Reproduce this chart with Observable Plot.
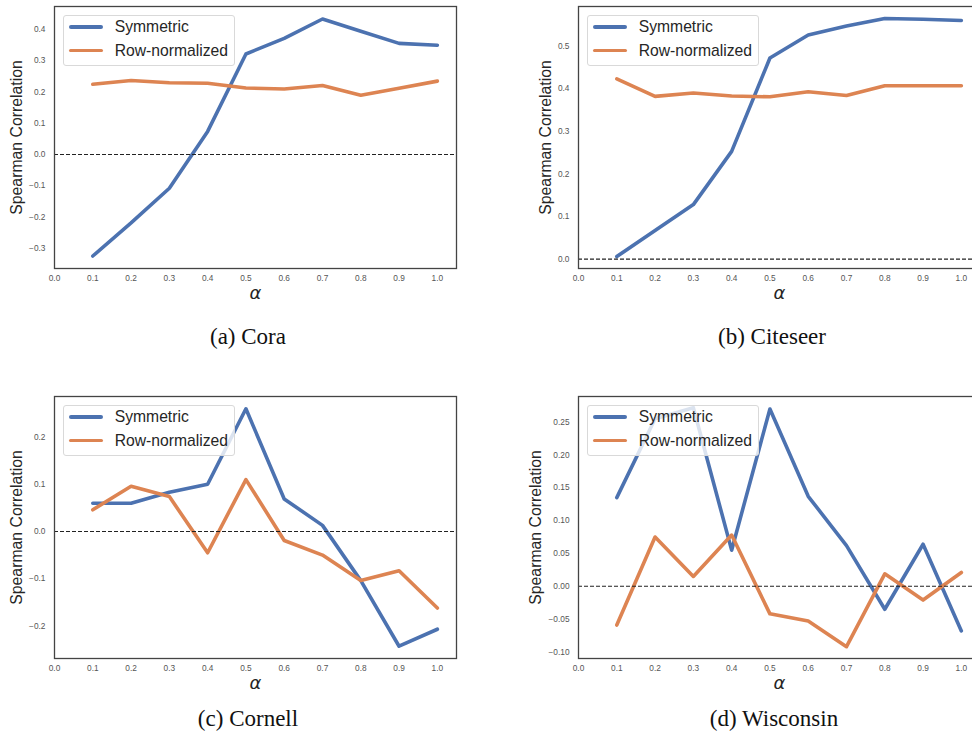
<!DOCTYPE html>
<html>
<head>
<meta charset="utf-8">
<script src="https://cdn.jsdelivr.net/npm/d3@7"></script>
<script src="https://cdn.jsdelivr.net/npm/@observablehq/plot@0.6"></script>
<style>
  body { margin: 0; background: #fff; }
  #root { position: relative; width: 972px; height: 742px; overflow: hidden; background: #fff; }
  .panel { position: absolute; width: 457px; height: 308px; }
  .panel svg { max-width: none !important; }
  .legend { position: absolute; width: 172px; height: 51px; box-sizing: border-box;
    border: 1px solid #d9d9d9; border-radius: 3px; background: rgba(255,255,255,0.8);
    font-family: "Liberation Sans", Arial, sans-serif; font-size: 15.7px; color: #262626; }
  .legend .row { position: absolute; left: 0; height: 20px; }
  .legend .sw { position: absolute; left: 5px; width: 34px; height: 3.6px; border-radius: 2px; }
  .legend .lb { position: absolute; left: 51px; white-space: nowrap; line-height: 20px; }
  .caption { position: absolute; font-family: "Liberation Serif", "Times New Roman", serif; font-size: 23px; color: #111; transform: translate(-50%, -50%); white-space: nowrap; }
</style>
</head>
<body>
<div id="root"></div>
<script>
const alphas = [0.1, 0.2, 0.3, 0.4, 0.5, 0.6, 0.7, 0.8, 0.9, 1.0];
const seriesNames = ["Symmetric", "Row-normalized"];
const xTicks = [0.0, 0.1, 0.2, 0.3, 0.4, 0.5, 0.6, 0.7, 0.8, 0.9, 1.0];

const coraSym = [-0.325, -0.219, -0.108, 0.074, 0.322, 0.372, 0.434, 0.395, 0.356, 0.350];
const coraRow = [0.225, 0.237, 0.230, 0.228, 0.213, 0.210, 0.221, 0.190, 0.212, 0.235];
const coraTicks = [-0.3, -0.2, -0.1, 0.0, 0.1, 0.2, 0.3, 0.4];

const citeSym = [0.006, 0.067, 0.128, 0.253, 0.472, 0.526, 0.547, 0.565, 0.563, 0.560];
const citeRow = [0.423, 0.382, 0.390, 0.383, 0.381, 0.393, 0.384, 0.407, 0.407, 0.407];
const citeTicks = [0.0, 0.1, 0.2, 0.3, 0.4, 0.5];

const cornSym = [0.060, 0.060, 0.083, 0.100, 0.260, 0.069, 0.013, -0.104, -0.243, -0.207];
const cornRow = [0.046, 0.096, 0.074, -0.045, 0.110, -0.019, -0.050, -0.104, -0.083, -0.162];
const cornTicks = [-0.2, -0.1, 0.0, 0.1, 0.2];

const wiscSym = [0.135, 0.255, 0.272, 0.055, 0.270, 0.137, 0.062, -0.035, 0.064, -0.068];
const wiscRow = [-0.059, 0.075, 0.015, 0.078, -0.042, -0.053, -0.092, 0.019, -0.021, 0.021];
const wiscTicks = [-0.10, -0.05, 0.00, 0.05, 0.10, 0.15, 0.20, 0.25];

const captions = ["(a) Cora", "(b) Citeseer", "(c) Cornell", "(d) Wisconsin"];

const colors = {"Symmetric": "#4c72b0", "Row-normalized": "#dd8452"};
const fmt = (p) => (v) => d3.format(p)(v).replace("-", "\u2212");

const panels = [
  {sym: coraSym, row: coraRow, ticks: coraTicks, f: ".1f", domain: [-0.365, 0.474], left: 0, top: 0, ydx: -38, cap: [248, 337]},
  {sym: citeSym, row: citeRow, ticks: citeTicks, f: ".1f", domain: [-0.022, 0.593], left: 524, top: 0, ydx: -33, cap: [772, 337]},
  {sym: cornSym, row: cornRow, ticks: cornTicks, f: ".1f", domain: [-0.269, 0.286], left: 0, top: 390, ydx: -38, cap: [248, 719]},
  {sym: wiscSym, row: wiscRow, ticks: wiscTicks, f: ".2f", domain: [-0.110, 0.289], left: 524, top: 390, ydx: -43, cap: [774, 719]}
];

const root = document.getElementById("root");
const ML = 54, MT = 6;

panels.forEach((p, k) => {
  const symData = alphas.map((a, i) => ({a, v: p.sym[i]}));
  const rowData = alphas.map((a, i) => ({a, v: p.row[i]}));
  const chart = Plot.plot({
    width: 457, height: 308,
    marginLeft: ML, marginTop: MT, marginRight: 1, marginBottom: 40,
    style: {fontFamily: "'Liberation Sans', Arial, sans-serif", fontSize: "8.3px", color: "#555", background: "transparent", overflow: "visible", maxWidth: "none"},
    x: {domain: [0, 1.05], ticks: xTicks, tickFormat: fmt(".1f"), tickSize: 0, tickPadding: 7, label: null},
    y: {domain: p.domain, ticks: p.ticks, tickFormat: fmt(p.f), tickSize: 0, tickPadding: 9, label: null},
    marks: [
      Plot.line(symData, {x: "a", y: "v", stroke: colors["Symmetric"], strokeWidth: 3.6, strokeLinejoin: "round", strokeLinecap: "round"}),
      Plot.line(rowData, {x: "a", y: "v", stroke: colors["Row-normalized"], strokeWidth: 3.6, strokeLinejoin: "round", strokeLinecap: "round"}),
      Plot.ruleY([0], {stroke: "#222", strokeWidth: 1.1, strokeDasharray: "4,2"}),
      Plot.frame({stroke: "#444", strokeWidth: 1.3}),
      Plot.text(["α"], {text: d => d, frameAnchor: "bottom", dy: 30, fontSize: 18, fontStyle: "italic", fontFamily: "'DejaVu Sans', sans-serif", fill: "#262626"}),
      Plot.text(["Spearman Correlation"], {text: d => d, frameAnchor: "left", textAnchor: "middle", rotate: -90, dx: p.ydx, fontSize: 15.8, fill: "#262626"})
    ]
  });
  chart.style.maxWidth = "none";
  const div = document.createElement("div");
  div.className = "panel";
  div.style.left = p.left + "px";
  div.style.top = p.top + "px";
  div.appendChild(chart);
  root.appendChild(div);

  const lg = document.createElement("div");
  lg.className = "legend";
  lg.style.left = (p.left + ML + 8.7) + "px";
  lg.style.top = (p.top + MT + 9) + "px";
  seriesNames.forEach((s, j) => {
    const r = document.createElement("div");
    r.className = "row";
    r.style.top = (12.3 + j * 23.4 - 10 - 1) + "px";
    const sw = document.createElement("div");
    sw.className = "sw";
    sw.style.background = colors[s];
    sw.style.top = "8.2px";
    const lb = document.createElement("div");
    lb.className = "lb";
    lb.textContent = s;
    r.appendChild(sw); r.appendChild(lb);
    lg.appendChild(r);
  });
  root.appendChild(lg);

  const cap = document.createElement("div");
  cap.className = "caption";
  cap.style.left = p.cap[0] + "px";
  cap.style.top = p.cap[1] + "px";
  cap.textContent = captions[k];
  root.appendChild(cap);
});
</script>
</body>
</html>
